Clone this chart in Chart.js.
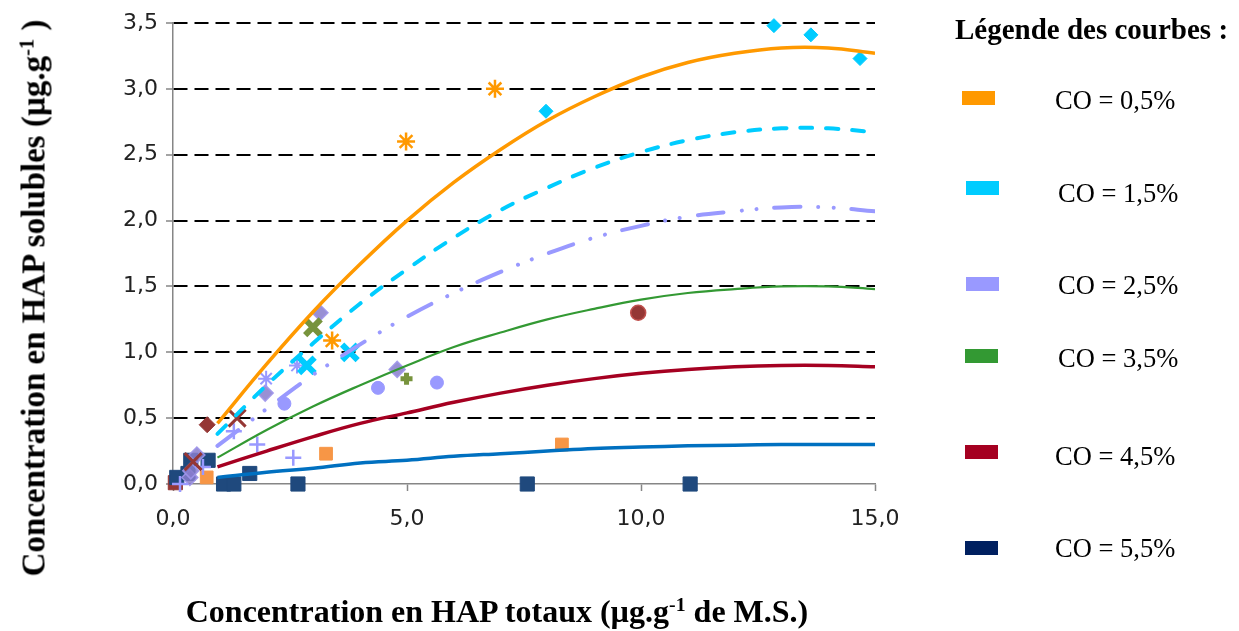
<!DOCTYPE html>
<html>
<head>
<meta charset="utf-8">
<script src="https://cdn.jsdelivr.net/npm/chart.js@4.4.1/dist/chart.umd.min.js"></script>
<style>
html,body{margin:0;padding:0;background:#fff;}
#wrap{position:relative;width:1239px;height:631px;overflow:hidden;background:#fff;}
#c{position:absolute;left:0;top:0;}
.t{position:absolute;font-family:"Liberation Serif","Times New Roman",serif;color:#000;white-space:nowrap;line-height:1;}
.b{font-weight:bold;}
sup{font-size:0.62em;position:relative;top:-0.55em;vertical-align:baseline;line-height:0;}
#xt{left:497px;top:595px;font-size:32px;transform:translateX(-50%);}
#yt{left:34px;top:298px;font-size:33px;transform:translate(-50%,-50%) rotate(-90deg);}
#lt{left:955px;top:15px;font-size:29px;}
.sw{position:absolute;width:33px;height:14px;}
.lg{font-size:26.5px;transform:translateY(-50%);}
</style>
</head>
<body>
<div id="wrap">
<canvas id="c" width="1239" height="631"></canvas>
<div class="t b" id="xt">Concentration en HAP totaux (µg.g<sup>-1</sup> de M.S.)</div>
<div class="t b" id="yt">Concentration en HAP solubles (µg.g<sup>-1</sup> )</div>
<div class="t b" id="lt">Légende des courbes :</div>
<div id="legend"></div>
</div>
<script>
// ---- Data ----
const curveX = [0.95, 2, 3, 4, 5, 6, 7, 8, 9, 10, 11, 12, 13, 14, 15];
const co05 = [0.46, 0.91, 1.31, 1.67, 2.00, 2.29, 2.54, 2.76, 2.94, 3.09, 3.20, 3.27, 3.31, 3.31, 3.27];
const co15 = [0.38, 0.75, 1.07, 1.37, 1.63, 1.87, 2.08, 2.25, 2.40, 2.52, 2.61, 2.67, 2.70, 2.70, 2.67];
const co25 = [0.29, 0.57, 0.83, 1.06, 1.27, 1.45, 1.61, 1.75, 1.87, 1.96, 2.03, 2.07, 2.10, 2.10, 2.07];
const co35 = [0.20, 0.41, 0.59, 0.75, 0.90, 1.04, 1.15, 1.25, 1.33, 1.40, 1.45, 1.48, 1.50, 1.50, 1.48];
const co45 = [0.13, 0.25, 0.36, 0.46, 0.54, 0.62, 0.69, 0.75, 0.80, 0.84, 0.87, 0.89, 0.90, 0.90, 0.89];
const co55 = [0.05, 0.09, 0.12, 0.16, 0.18, 0.21, 0.23, 0.25, 0.27, 0.28, 0.29, 0.295, 0.30, 0.30, 0.30];

const legendLabels = ["CO = 0,5%", "CO = 1,5%", "CO = 2,5%", "CO = 3,5%", "CO = 4,5%", "CO = 5,5%"];

const cyanDiamondX = [7.97, 12.84, 13.63, 14.68];
const cyanDiamondY = [2.83, 3.48, 3.41, 3.23];
const cyanCrossX = [2.86, 3.78];
const cyanCrossY = [0.90, 1.00];
const orangeStarX = [3.40, 4.98, 6.88];
const orangeStarY = [1.09, 2.60, 3.00];
const orangeSquareX = [0.72, 3.27, 8.31];
const orangeSquareY = [0.05, 0.23, 0.30];
const navySquareX = [0.08, 0.32, 0.38, 0.75, 1.08, 1.30, 1.64, 2.67, 7.57, 11.05];
const navySquareY = [0.05, 0.08, 0.18, 0.18, 0.00, 0.00, 0.08, 0.00, 0.00, 0.00];
const maroonDiamondX = [0.73];
const maroonDiamondY = [0.45];
const maroonCrossX = [0.43, 1.37];
const maroonCrossY = [0.17, 0.50];
const maroonSquareX = [0.05];
const maroonSquareY = [0.01];
const maroonCircleX = [9.94];
const maroonCircleY = [1.30];
const lavCircleX = [2.38, 4.38, 5.64];
const lavCircleY = [0.61, 0.73, 0.77];
const lavDiamondX = [0.36, 0.38, 0.51, 1.97, 3.14, 4.79];
const lavDiamondY = [0.05, 0.10, 0.22, 0.69, 1.30, 0.87];
const lavStarX = [1.99, 2.65];
const lavStarY = [0.80, 0.90];
const lavPlusX = [0.15, 0.64, 1.30, 1.80, 2.57];
const lavPlusY = [0.00, 0.13, 0.40, 0.30, 0.20];
const oliveCrossX = [2.99];
const oliveCrossY = [1.19];
const olivePlusX = [4.99];
const olivePlusY = [0.80];

const xTicks = [0, 5, 10, 15];
const yTicks = [0, 0.5, 1, 1.5, 2, 2.5, 3, 3.5];

// ---- helpers ----
const pts = (xs, ys) => xs.map((x, i) => ({x: x, y: ys[i]}));

function curve(ys, color, width, dash, order) {
  return {
    type: 'line', data: pts(curveX, ys), borderColor: color, borderWidth: width,
    borderDash: dash || [], borderCapStyle: dash ? 'round' : 'butt', showLine: true,
    pointRadius: 0, tension: 0.4, fill: false, order: order
  };
}
function marks(xs, ys, style, radius, fill, stroke, bw, order) {
  return {
    type: 'scatter', data: pts(xs, ys), pointStyle: style, pointRadius: radius,
    pointHoverRadius: radius, backgroundColor: fill, borderColor: stroke,
    pointBorderWidth: bw, borderWidth: bw, clip: false, order: order
  };
}

const lavender = '#9999FF';
const datasets = [
  curve(co05, '#FF9900', 3.5, null, 1),
  curve(co15, '#00CCFF', 4, [12, 14], 1),
  curve(co25, lavender, 4, [26, 18, 0.01, 15, 0.01, 18], 1),
  curve(co35, '#339933', 2.2, null, 1),
  curve(co45, '#A50021', 3.5, null, 1),
  curve(co55, '#0070C0', 3.5, null, 1),
  marks(navySquareX, navySquareY, 'rect', 10, '#1F497D', '#1F497D', 1, 5),
  marks(maroonSquareX, maroonSquareY, 'rect', 10, '#953735', '#953735', 1, 6),
  marks(orangeSquareX, orangeSquareY, 'rect', 9, '#F79646', '#F79646', 1, 4),
  marks(lavDiamondX, lavDiamondY, 'rectRot', 8, 'rgba(135,125,205,0.85)', 'rgba(160,150,235,0.9)', 1.5, 3),
  marks(cyanDiamondX, cyanDiamondY, 'rectRot', 7, '#00CCFF', '#00CCFF', 1, 3),
  marks(maroonDiamondX, maroonDiamondY, 'rectRot', 8, '#953735', '#953735', 1, 3),
  marks(lavCircleX, lavCircleY, 'circle', 6.5, lavender, lavender, 1, 3),
  marks(maroonCircleX, maroonCircleY, 'circle', 7.5, '#953735', '#C0504D', 1.5, 3),
  marks(cyanCrossX, cyanCrossY, 'crossRot', 11, '#00CCFF', '#00CCFF', 6, 2),
  marks(oliveCrossX, oliveCrossY, 'crossRot', 11, '#77933C', '#77933C', 6, 2),
  marks(maroonCrossX, maroonCrossY, 'crossRot', 12, '#953735', '#953735', 3, 2),
  marks(orangeStarX, orangeStarY, 'star', 9, '#FF9900', '#FF9900', 2.5, 2),
  marks(lavStarX, lavStarY, 'star', 8, lavender, lavender, 2, 2),
  marks(lavPlusX, lavPlusY, 'cross', 8, lavender, lavender, 2.5, 2),
  marks(olivePlusX, olivePlusY, 'cross', 6, '#77933C', '#77933C', 5, 2)
];

const fmt = v => Number(v).toFixed(1).replace('.', ',');
const axisGray = '#868686';
const tickFont = {family: '"DejaVu Sans", "Liberation Sans", sans-serif', size: 22};

new Chart(document.getElementById('c'), {
  type: 'scatter',
  data: {datasets: datasets},
  options: {
    responsive: false, animation: false, devicePixelRatio: 1,
    layout: {padding: {left: 0, top: 23, right: 364, bottom: 0}},
    plugins: {legend: {display: false}, tooltip: {enabled: false}},
    scales: {
      x: {
        type: 'linear', min: 0, max: 15,
        afterBuildTicks: s => { s.ticks = xTicks.map(v => ({value: v})); },
        afterFit: s => { s.height = 147; },
        border: {display: true, color: axisGray, width: 1.5},
        grid: {drawOnChartArea: false, drawTicks: true, tickLength: 7, tickColor: axisGray, tickWidth: 1.5},
        ticks: {callback: v => fmt(v), padding: 15, color: '#222', maxRotation: 0, font: tickFont}
      },
      y: {
        type: 'linear', min: 0, max: 3.5,
        afterBuildTicks: s => { s.ticks = yTicks.map(v => ({value: v})); },
        afterFit: s => { s.width = 173; },
        border: {display: true, color: axisGray, width: 1.5, dash: [14, 7]},
        grid: {
          drawOnChartArea: true, drawTicks: true, tickLength: 7, tickColor: axisGray, tickWidth: 1.5,
          lineWidth: 2, color: c => (c.tick && c.tick.value === 0) ? 'rgba(0,0,0,0)' : '#000'
        },
        ticks: {callback: v => fmt(v), padding: 8, color: '#222', font: tickFont}
      }
    }
  }
});

// ---- HTML legend ----
const legendColors = ['#FF9900', '#00CCFF', '#9999FF', '#339933', '#A50021', '#002060'];
const swatchPos = [[962, 91], [966, 181], [966, 277], [965, 349], [965, 445], [965, 541]];
const labelPos = [[1055, 100], [1058, 193], [1058, 285], [1058, 358], [1055, 456], [1055, 548]];
const lg = document.getElementById('legend');
legendLabels.forEach((txt, i) => {
  const s = document.createElement('div');
  s.className = 'sw';
  s.style.left = swatchPos[i][0] + 'px'; s.style.top = swatchPos[i][1] + 'px';
  s.style.background = legendColors[i];
  lg.appendChild(s);
  const t = document.createElement('div');
  t.className = 't lg';
  t.style.left = labelPos[i][0] + 'px'; t.style.top = labelPos[i][1] + 'px';
  t.textContent = txt;
  lg.appendChild(t);
});
</script>
</body>
</html>
